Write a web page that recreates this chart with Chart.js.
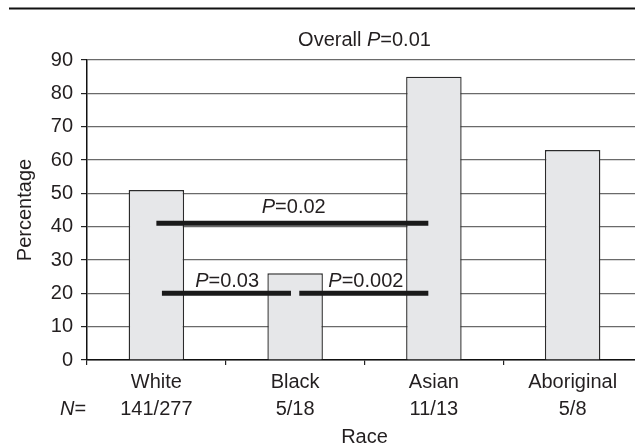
<!DOCTYPE html>
<html>
<head>
<meta charset="utf-8">
<script src="https://cdn.jsdelivr.net/npm/chart.js@4/dist/chart.umd.min.js"></script>
<style>
  html, body { margin: 0; padding: 0; background: #fff; overflow: hidden; width: 635px; height: 445px; }
  #wrap { position: absolute; left: 0; top: 0; width: 645px; height: 445px; }
</style>
</head>
<body>
<div id="wrap"><canvas id="c" width="645" height="445"></canvas></div>
<script>
// ---- data ----
const categories = ['White', 'Black', 'Asian', 'Aboriginal'];
const counts = ['141/277', '5/18', '11/13', '5/8'];
const percentages = [51, 26, 85, 63];
const yTickMin = 0, yTickMax = 90, yTickStep = 10;

// pairwise comparison bars (category-index units and percentage level)
const compLabels = ['0.02', '0.03', '0.002'];
const compStart = [0.0, 0.04, 1.03];
const compEnd = [1.96, 0.97, 1.96];
const compLevel = [41, 20, 20];
const compLabelX = [0.99, 0.51, 1.51];
const compLabelY = [45.7, 23.7, 23.7];
const overallP = '0.01';

const FONT = '"Liberation Sans", Arial, Helvetica, sans-serif';
const TXT = '#231f20';
const FS = 20;

function drawParts(ctx, parts, x, y, size, align) {
  let w = 0;
  parts.forEach(p => {
    ctx.font = (p.i ? 'italic ' : '') + size + 'px ' + FONT;
    p.w = ctx.measureText(p.t).width;
    w += p.w;
  });
  let cx = align === 'left' ? x : x - w / 2;
  ctx.textBaseline = 'middle';
  ctx.textAlign = 'left';
  ctx.fillStyle = TXT;
  parts.forEach(p => {
    ctx.font = (p.i ? 'italic ' : '') + size + 'px ' + FONT;
    ctx.fillText(p.t, cx, y);
    cx += p.w;
  });
}

const decor = {
  id: 'decor',
  afterDraw(chart) {
    const { ctx, chartArea, scales } = chart;
    ctx.save();
    // top rule
    ctx.strokeStyle = '#111';
    ctx.lineWidth = 2.2;
    ctx.beginPath();
    ctx.moveTo(9, 8.5);
    ctx.lineTo(chart.width, 8.5);
    ctx.stroke();
    // overall title
    const cx = (chartArea.left + chartArea.right) / 2;
    drawParts(ctx, [{ t: 'Overall ' }, { t: 'P', i: true }, { t: '=' + overallP }], cx, chartArea.top - 20, FS, 'center');
    // comparison labels
    const x2 = scales.x2, y = scales.y;
    compLabels.forEach((lab, i) => {
      drawParts(ctx, [{ t: 'P', i: true }, { t: '=' + lab }],
        x2.getPixelForValue(compLabelX[i]), y.getPixelForValue(compLabelY[i]), FS, 'center');
    });
    // N= row label
    drawParts(ctx, [{ t: 'N', i: true }, { t: '=' }], 60, chartArea.bottom + 49, FS, 'left');
    ctx.restore();
  }
};

const datasets = [];
compLabels.forEach((lab, i) => {
  datasets.push({
    type: 'line',
    label: 'P=' + lab,
    data: [{ x: compStart[i], y: compLevel[i] }, { x: compEnd[i], y: compLevel[i] }],
    xAxisID: 'x2',
    yAxisID: 'y',
    borderColor: '#1a1a1a',
    borderWidth: 5,
    borderCapStyle: 'butt',
    pointRadius: 0,
    fill: false,
    order: 0
  });
});
datasets.push({
  type: 'bar',
  label: 'Percentage',
  data: percentages,
  xAxisID: 'x',
  yAxisID: 'y',
  backgroundColor: '#e6e7e9',
  borderColor: '#2b2b2b',
  borderWidth: 1.4,
  barPercentage: 0.4,
  categoryPercentage: 1.0,
  grouped: false,
  order: 1
});

new Chart(document.getElementById('c'), {
  type: 'bar',
  data: {
    labels: categories.map((c, i) => [c, counts[i]]),
    datasets
  },
  options: {
    responsive: false,
    devicePixelRatio: 1,
    animation: false,
    layout: { padding: { top: 60, right: 3, left: 0, bottom: 0 } },
    plugins: { legend: { display: false }, tooltip: { enabled: false }, title: { display: false } },
    scales: {
      x: {
        type: 'category',
        position: 'bottom',
        offset: true,
        afterFit: s => { s.height = 85; },
        grid: { display: true, drawOnChartArea: false, drawTicks: true, tickLength: 5, color: '#222', lineWidth: 1.2, offset: true },
        border: { display: true, color: '#111', width: 1.5 },
        ticks: { color: TXT, font: { family: FONT, size: FS, lineHeight: '27px' }, padding: 4, maxRotation: 0, autoSkip: false },
        title: { display: true, text: 'Race', color: TXT, font: { family: FONT, size: FS, lineHeight: '16px' }, padding: 0 }
      },
      x2: {
        type: 'linear',
        position: 'bottom',
        min: -0.5,
        max: 3.5,
        offset: false,
        grid: { offset: false },
        display: false
      },
      y: {
        min: yTickMin,
        max: yTickMax,
        afterFit: s => { s.width = 87; },
        ticks: { stepSize: yTickStep, color: TXT, font: { family: FONT, size: FS }, padding: 8 },
        grid: { color: '#6a6a6a', lineWidth: 1.2, drawTicks: true, tickLength: 6, tickColor: '#222' },
        border: { display: true, color: '#111', width: 1.5 },
        title: { display: true, text: 'Percentage', color: TXT, font: { family: FONT, size: FS, lineHeight: '20px' }, padding: { top: 15, bottom: 0 } }
      }
    }
  },
  plugins: [decor]
});
</script>
</body>
</html>
